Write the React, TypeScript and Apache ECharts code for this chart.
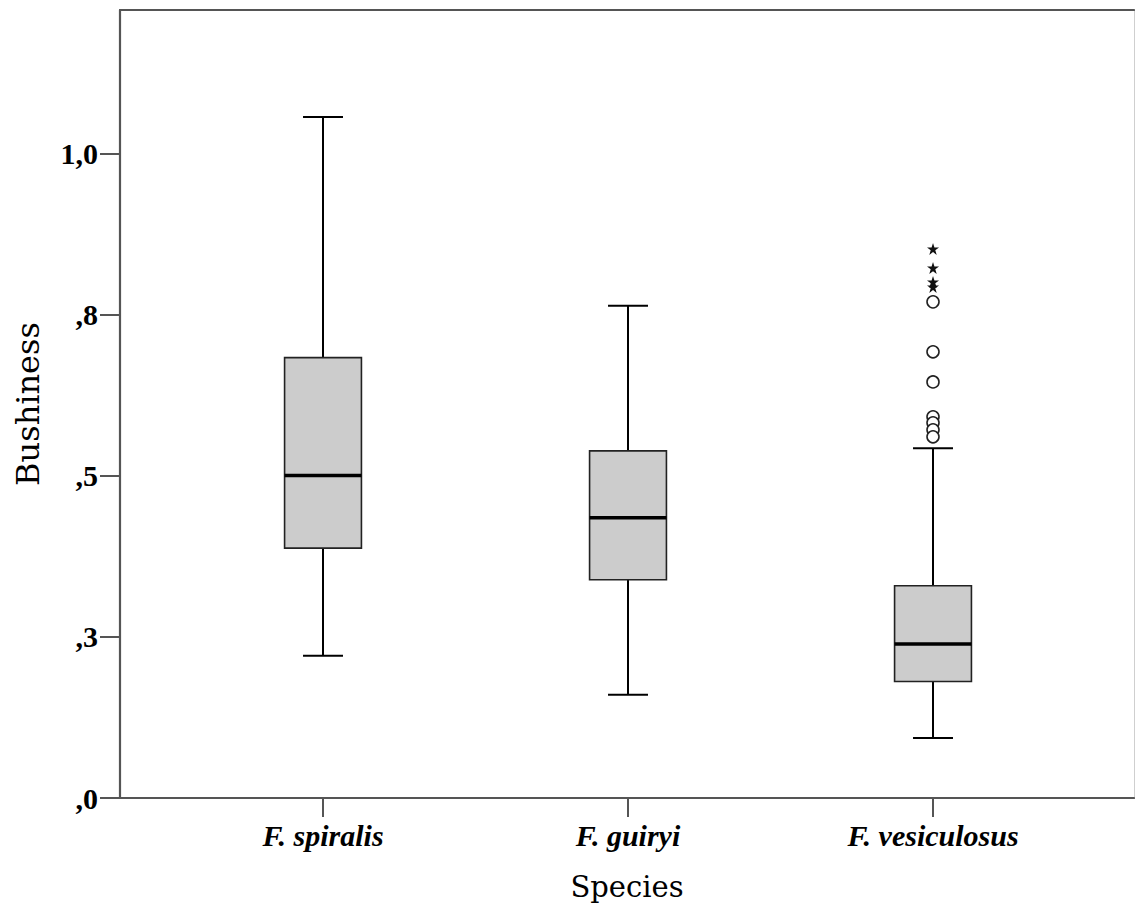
import React, { useEffect, useRef } from "react";
import * as echarts from "echarts";

// ---- data ----
const categories = ["F. spiralis", "F. guiryi", "F. vesiculosus"];
// [low whisker, Q1, median, Q3, high whisker]
const spiralisBox = [0.2206, 0.3876, 0.5002, 0.6831, 1.0563];
const guiryiBox = [0.1602, 0.3384, 0.4346, 0.5384, 0.7633];
const vesiculosusBox = [0.093, 0.1808, 0.2388, 0.3291, 0.5426];
const vesiculosusOutliers = [0.7695, 0.692, 0.6454, 0.5912, 0.5819, 0.571, 0.5602];
const vesiculosusExtremes = [0.8516, 0.8221, 0.8005, 0.7927];
const yTickValues = [0, 0.25, 0.5, 0.75, 1.0];
const yTickLabels = [",0", ",3", ",5", ",8", "1,0"];
const xTickValues = [0, 1, 2];

const STAR =
  "path://M50,0 L61.8,35.4 L100,35.4 L69.1,57.3 L80.9,93.3 L50,71.4 L19.1,93.3 L30.9,57.3 L0,35.4 L38.2,35.4 Z";

export default function App() {
  const ref = useRef<HTMLDivElement>(null);
  useEffect(() => {
    if (!ref.current) return;
    const chart = echarts.init(ref.current, null, { renderer: "svg" });
    const boxes = [spiralisBox, guiryiBox, vesiculosusBox].map((b, i) => [i, ...b]);
    const axisColor = "#555555";
    chart.setOption({
      animation: false,
      backgroundColor: "#ffffff",
      grid: { left: 120, right: 1, top: 10, bottom: 110, containLabel: false },
      xAxis: [
        {
          type: "value",
          min: -0.6656,
          max: 2.659,
          splitLine: { show: false },
          axisLine: { show: true, onZero: false, lineStyle: { color: axisColor, width: 2.2 } },
          axisTick: {
            show: true,
            length: 19,
            customValues: xTickValues,
            lineStyle: { color: axisColor, width: 2 },
          },
          axisLabel: {
            customValues: xTickValues,
            margin: 22,
            formatter: (v: number) => categories[Math.round(v)] ?? "",
            fontFamily: "Liberation Serif",
            fontStyle: "italic",
            fontWeight: "bold",
            fontSize: 30,
            color: "#000",
          },
          name: "Species",
          nameLocation: "middle",
          nameGap: 74,
          nameTextStyle: { fontFamily: "DejaVu Serif", fontSize: 29, color: "#000" },
        },
        {
          type: "value",
          position: "top",
          min: -0.6656,
          max: 2.659,
          splitLine: { show: false },
          axisLine: { show: true, onZero: false, lineStyle: { color: axisColor, width: 2.2 } },
          axisTick: { show: false },
          axisLabel: { show: false },
        },
      ],
      yAxis: [
        {
          type: "value",
          min: 0,
          max: 1.2222,
          interval: 0.25,
          splitLine: { show: false },
          axisLine: { show: true, onZero: false, lineStyle: { color: axisColor, width: 2.2 } },
          axisTick: {
            show: true,
            length: 20,
            customValues: yTickValues,
            lineStyle: { color: axisColor, width: 2 },
          },
          axisLabel: {
            customValues: yTickValues,
            margin: 22,
            formatter: (v: number) => {
              const idx = yTickValues.findIndex((t) => Math.abs(t - v) < 1e-6);
              return idx >= 0 ? yTickLabels[idx] : "";
            },
            fontFamily: "Liberation Serif",
            fontWeight: "bold",
            fontSize: 30,
            color: "#000",
          },
          name: "Bushiness",
          nameLocation: "middle",
          nameGap: 76,
          nameTextStyle: { fontFamily: "DejaVu Serif", fontSize: 32, color: "#000" },
        },
        {
          type: "value",
          position: "right",
          min: 0,
          max: 1.2222,
          splitLine: { show: false },
          axisLine: { show: true, onZero: false, lineStyle: { color: "#cfcfcf", width: 1 } },
          axisTick: { show: false },
          axisLabel: { show: false },
        },
      ],
      series: [
        {
          type: "custom",
          xAxisIndex: 0,
          yAxisIndex: 0,
          clip: false,
          data: boxes,
          renderItem: (params: any, api: any) => {
            const x = api.value(0);
            const low = api.coord([x, api.value(1)]);
            const q1 = api.coord([x, api.value(2)]);
            const med = api.coord([x, api.value(3)]);
            const q3 = api.coord([x, api.value(4)]);
            const high = api.coord([x, api.value(5)]);
            const band = api.size([1, 0])[0];
            const bw = band * 0.252;
            const cw = bw * 0.52;
            const cx = low[0];
            const lineStyle = { stroke: "#000", lineWidth: 2 };
            return {
              type: "group",
              children: [
                { type: "line", shape: { x1: cx, y1: low[1], x2: cx, y2: q1[1] }, style: lineStyle },
                { type: "line", shape: { x1: cx, y1: q3[1], x2: cx, y2: high[1] }, style: lineStyle },
                { type: "line", shape: { x1: cx - cw / 2, y1: low[1], x2: cx + cw / 2, y2: low[1] }, style: lineStyle },
                { type: "line", shape: { x1: cx - cw / 2, y1: high[1], x2: cx + cw / 2, y2: high[1] }, style: lineStyle },
                {
                  type: "rect",
                  shape: { x: cx - bw / 2, y: q3[1], width: bw, height: q1[1] - q3[1] },
                  style: { fill: "#cccccc", stroke: "#222", lineWidth: 1.6 },
                },
                {
                  type: "line",
                  shape: { x1: cx - bw / 2, y1: med[1], x2: cx + bw / 2, y2: med[1] },
                  style: { stroke: "#000", lineWidth: 3.5 },
                },
              ],
            };
          },
        },
        {
          type: "scatter",
          xAxisIndex: 0,
          yAxisIndex: 0,
          data: vesiculosusOutliers.map((v) => [2, v]),
          symbol: "circle",
          symbolSize: 12,
          itemStyle: { color: "#ffffff", borderColor: "#222", borderWidth: 1.6, opacity: 1 },
          z: 5,
        },
        {
          type: "scatter",
          xAxisIndex: 0,
          yAxisIndex: 0,
          data: vesiculosusExtremes.map((v) => [2, v]),
          symbol: STAR,
          symbolSize: 12,
          itemStyle: { color: "#111", opacity: 1 },
          z: 6,
        },
      ],
    });
    return () => chart.dispose();
  }, []);
  return (
    <div
      ref={ref}
      style={{ position: "fixed", left: 0, top: 0, width: 1135, height: 908, background: "#fff" }}
    />
  );
}
